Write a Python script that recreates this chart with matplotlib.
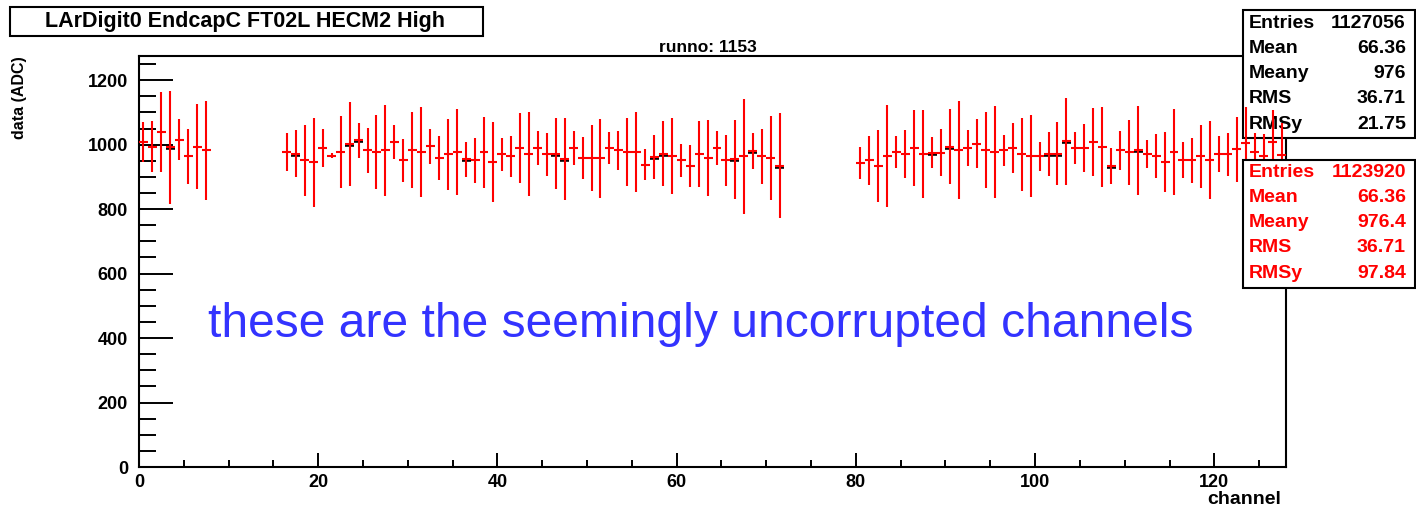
import matplotlib
matplotlib.use("Agg")
import matplotlib.pyplot as plt
from matplotlib.patches import Rectangle
from matplotlib.ticker import MultipleLocator

plt.rcParams['font.family'] = ['Liberation Sans', 'DejaVu Sans']
plt.rcParams['font.weight'] = 'bold'

# channels that have data (0-7, 16-71, 80-127)
channels = list(range(0, 8)) + list(range(16, 72)) + list(range(80, 128))

# red profile: mean ADC per channel
means = [1008, 994, 1039, 992, 1015, 964, 994, 982,
         977, 972, 951, 946, 990, 966, 977, 1003, 1013, 983, 977, 982,
         1008, 951, 982, 977, 995, 958, 970, 977, 954, 951, 977, 946,
         970, 964, 990, 970, 990, 970, 972, 956, 990, 958, 958, 958,
         990, 982, 977, 977, 938, 961, 972, 964, 951, 933, 972, 958,
         990, 951, 954, 964, 980, 964, 958, 935,
         944, 951, 933, 964, 977, 970, 990, 970, 975, 975, 994, 982,
         990, 1003, 982, 977, 982, 990, 970, 964, 964, 972, 972, 1011,
         990, 990, 1008, 994, 935, 982, 977, 982, 970, 964, 946, 977,
         951, 951, 964, 951, 970, 970, 985, 1005, 977, 966, 1007, 968]

# red profile: error (spread) per channel
errors = [63, 80, 124, 175, 64, 86, 132, 153,
          58, 72, 111, 138, 58, 8, 113, 130, 55, 70, 115, 142,
          52, 68, 118, 139, 55, 68, 110, 133, 55, 70, 110, 123,
          52, 64, 109, 130, 53, 67, 111, 127, 53, 65, 103, 123,
          50, 61, 105, 124, 49, 68, 100, 118, 50, 65, 102, 118,
          53, 80, 124, 178, 55, 86, 130, 163,
          50, 77, 112, 158, 50, 74, 117, 136, 48, 72, 117, 152,
          56, 76, 118, 142, 47, 78, 114, 127, 45, 68, 98, 135,
          50, 74, 105, 124, 56, 61, 101, 137, 43, 68, 92, 133,
          56, 69, 98, 121, 56, 67, 102, 112, 58, 68, 100, 100]

# black profile where it shows from under the red one
black_ch = [3, 17, 23, 24, 36, 46, 47, 57, 58, 66, 68, 71, 88, 90, 101, 102, 103, 108, 111]
black_val = [989, 969, 1000, 1010, 951, 969, 953, 958, 969, 951, 977, 932, 972, 991,
             969, 969, 1008, 932, 979]

stat_names = ['Entries', 'Mean', 'Meany', 'RMS', 'RMSy']
stats_black = ['1127056', '66.36', '976', '36.71', '21.75']
stats_red = ['1123920', '66.36', '976.4', '36.71', '97.84']

W, H = 1416, 508


def fx(x):
    return x / W


def fy(y):
    return 1 - y / H


fig = plt.figure(figsize=(W / 100, H / 100), dpi=100)
ax = fig.add_axes([fx(139), fy(467), fx(1286) - fx(139), fy(56) - fy(467)])

xc = [c + 0.5 for c in channels]
ax.hlines(black_val, black_ch, [c + 1 for c in black_ch], colors='black', lw=2.6, zorder=3.8)
ax.errorbar(xc, means, xerr=0.5, yerr=errors, fmt='none', ecolor='red',
            elinewidth=1.5, capsize=0, zorder=4)

ax.set_xlim(0, 128)
ax.set_ylim(0, 1275)
ax.set_xticks(range(0, 121, 20))
ax.set_yticks(range(0, 1201, 200))
ax.xaxis.set_minor_locator(MultipleLocator(5))
ax.yaxis.set_minor_locator(MultipleLocator(50))
ax.tick_params(axis='y', which='major', direction='in', length=24.5, width=1.4,
               labelsize=13, pad=8)
ax.tick_params(axis='y', which='minor', direction='in', length=12, width=1.4)
ax.tick_params(axis='x', which='major', direction='in', length=10, width=1.4,
               labelsize=13, pad=5)
ax.tick_params(axis='x', which='minor', direction='in', length=5, width=1.4)
for sp in ax.spines.values():
    sp.set_linewidth(1.5)

# black stats box sits under the red bars
ax.add_patch(Rectangle((fx(1243), fy(138)), fx(1415) - fx(1243), fy(10) - fy(138),
                       transform=fig.transFigure, clip_on=False, zorder=3,
                       facecolor='white', edgecolor='black', lw=1.5))
for i, (n, v) in enumerate(zip(stat_names, stats_black)):
    yy = fy(23 + i * 25.3)
    ax.text(fx(1249), yy, n, transform=fig.transFigure, ha='left', va='center',
            fontsize=14, zorder=3.5, clip_on=False)
    ax.text(fx(1406), yy, v, transform=fig.transFigure, ha='right', va='center',
            fontsize=14, zorder=3.5, clip_on=False)

# red stats box on top of everything
fig.add_artist(Rectangle((fx(1243), fy(288)), fx(1415) - fx(1243), fy(160) - fy(288),
                         transform=fig.transFigure, facecolor='white',
                         edgecolor='black', lw=1.5, zorder=5))
for i, (n, v) in enumerate(zip(stat_names, stats_red)):
    yy = fy(172 + i * 25.3)
    fig.text(fx(1249), yy, n, ha='left', va='center', fontsize=14, color='red', zorder=6)
    fig.text(fx(1406), yy, v, ha='right', va='center', fontsize=14, color='red', zorder=6)

# title box
fig.add_artist(Rectangle((fx(10), fy(36)), fx(483) - fx(10), fy(7) - fy(36),
                         transform=fig.transFigure, facecolor='white',
                         edgecolor='black', lw=1.5))
fig.text(fx(245), fy(22), 'LArDigit0 EndcapC FT02L HECM2 High', ha='center',
         va='center', fontsize=15.5)

fig.text(fx(708), fy(47), 'runno: 1153', ha='center', va='center', fontsize=12.5)
fig.text(fx(20), fy(56), 'data (ADC)', rotation=90, ha='center', va='top', fontsize=11.5)
fig.text(fx(1281), fy(500), 'channel', ha='right', va='center', fontsize=14)

fig.text(fx(208), fy(337), 'these are the seemingly uncorrupted channels',
         ha='left', va='baseline', fontsize=34.6, color='#3333ff', weight='normal')

fig.savefig('out.png', dpi=100, facecolor='white')
